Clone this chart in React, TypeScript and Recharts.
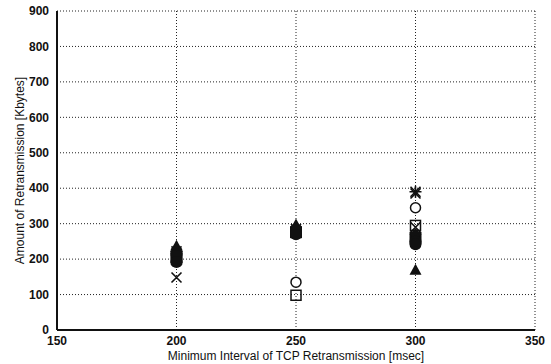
import { CartesianGrid, Scatter, ScatterChart, XAxis, YAxis } from "recharts";

const X_TICKS = [150, 200, 250, 300, 350];
const Y_TICKS = [0, 100, 200, 300, 400, 500, 600, 700, 800, 900];
const INTERVALS = [200, 250, 300];

// one value per interval (200, 250, 300 msec)
const CROSS = [148, 280, 385];
const STAR = [222, 285, 390];
const CIRCLE = [210, 135, 345];
const SQUARE = [200, 98, 295];
const CROSS_B = [196, 274, 290];
const DIAMOND = [228, 290, 270];
const DOT = [216, 282, 250];
const FILLED_SQUARE = [206, 276, 260];
const DOT_B = [192, 270, 242];
const TRIANGLE = [238, 298, 170];

const toPoints = (values: number[]) => INTERVALS.map((x, i) => ({ x, y: values[i] }));

const FONT = "'Liberation Sans', Arial, sans-serif";
const INK = "#111";

type ShapeProps = { cx?: number; cy?: number };

const CrossShape = ({ cx = 0, cy = 0 }: ShapeProps) => (
  <path d={`M${cx - 5},${cy - 5}L${cx + 5},${cy + 5}M${cx - 5},${cy + 5}L${cx + 5},${cy - 5}`} stroke={INK} strokeWidth={1.6} />
);

const StarShape = ({ cx = 0, cy = 0 }: ShapeProps) => (
  <path
    d={`M${cx - 5},${cy - 5}L${cx + 5},${cy + 5}M${cx - 5},${cy + 5}L${cx + 5},${cy - 5}M${cx},${cy - 6}L${cx},${cy + 6}M${cx - 6},${cy}L${cx + 6},${cy}`}
    stroke={INK}
    strokeWidth={1.6}
  />
);

const CircleShape = ({ cx = 0, cy = 0 }: ShapeProps) => (
  <circle cx={cx} cy={cy} r={5} fill="#fff" stroke={INK} strokeWidth={1.5} />
);

const SquareShape = ({ cx = 0, cy = 0 }: ShapeProps) => (
  <rect x={cx - 5} y={cy - 5} width={10} height={10} fill="none" stroke={INK} strokeWidth={1.5} />
);

const FilledSquareShape = ({ cx = 0, cy = 0 }: ShapeProps) => (
  <rect x={cx - 6} y={cy - 6} width={12} height={12} fill={INK} />
);

const DiamondShape = ({ cx = 0, cy = 0 }: ShapeProps) => (
  <path d={`M${cx},${cy - 6}L${cx + 6},${cy}L${cx},${cy + 6}L${cx - 6},${cy}Z`} fill={INK} />
);

const DotShape = ({ cx = 0, cy = 0 }: ShapeProps) => <circle cx={cx} cy={cy} r={6} fill={INK} />;

const TriangleShape = ({ cx = 0, cy = 0 }: ShapeProps) => (
  <path d={`M${cx},${cy - 6}L${cx + 6},${cy + 5}L${cx - 6},${cy + 5}Z`} fill={INK} />
);

const tickStyle = { fontSize: 12, fill: INK, fontFamily: FONT, fontWeight: 700 };
const titleStyle = { fontSize: 12, fill: INK, fontFamily: FONT };

export default function App() {
  return (
    <div style={{ position: "absolute", left: 0, top: 0, width: 551, height: 364, background: "#fff" }}>
      <ScatterChart width={551} height={364} margin={{ top: 11, right: 16, bottom: 0, left: 0 }}>
        <CartesianGrid stroke="#222" strokeDasharray="1 2" strokeWidth={1} />
        <XAxis
          type="number"
          dataKey="x"
          domain={[150, 350]}
          ticks={X_TICKS}
          tick={tickStyle}
          tickLine={false}
          tickSize={4}
          height={34}
          axisLine={{ stroke: INK, strokeWidth: 2 }}
          label={{
            value: "Minimum Interval of TCP Retransmission [msec]",
            position: "insideBottom",
            offset: 4,
            style: titleStyle,
          }}
        />
        <YAxis
          type="number"
          dataKey="y"
          domain={[0, 900]}
          ticks={Y_TICKS}
          tick={tickStyle}
          tickLine={false}
          width={57}
          axisLine={{ stroke: INK, strokeWidth: 2 }}
          label={{
            value: "Amount of Retransmission [Kbytes]",
            angle: -90,
            position: "insideLeft",
            offset: 20,
            style: { ...titleStyle, textAnchor: "middle" },
          }}
        />
        <XAxis xAxisId="top" orientation="top" type="number" domain={[150, 350]} height={0} tick={false} tickLine={false} axisLine={{ stroke: INK, strokeWidth: 2 }} />
        <YAxis yAxisId="right" orientation="right" type="number" domain={[0, 900]} width={0} tick={false} tickLine={false} axisLine={{ stroke: INK, strokeWidth: 2 }} />
        <Scatter data={toPoints(CROSS)} shape={CrossShape} isAnimationActive={false} />
        <Scatter data={toPoints(STAR)} shape={StarShape} isAnimationActive={false} />
        <Scatter data={toPoints(CIRCLE)} shape={CircleShape} isAnimationActive={false} />
        <Scatter data={toPoints(SQUARE)} shape={SquareShape} isAnimationActive={false} />
        <Scatter data={toPoints(CROSS_B)} shape={CrossShape} isAnimationActive={false} />
        <Scatter data={toPoints(FILLED_SQUARE)} shape={FilledSquareShape} isAnimationActive={false} />
        <Scatter data={toPoints(DIAMOND)} shape={DiamondShape} isAnimationActive={false} />
        <Scatter data={toPoints(DOT)} shape={DotShape} isAnimationActive={false} />
        <Scatter data={toPoints(DOT_B)} shape={DotShape} isAnimationActive={false} />
        <Scatter data={toPoints(TRIANGLE)} shape={TriangleShape} isAnimationActive={false} />
      </ScatterChart>
    </div>
  );
}
